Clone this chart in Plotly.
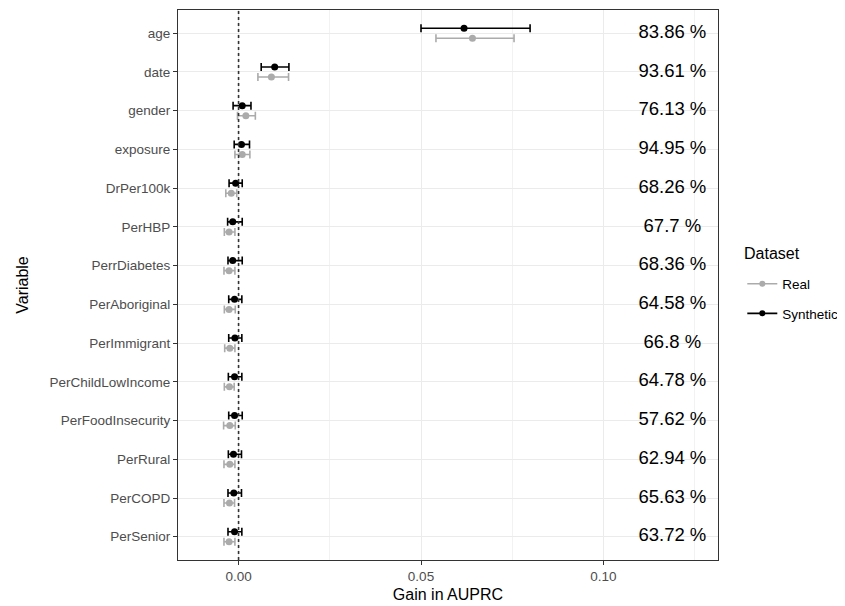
import plotly.graph_objects as go

variables = ["age", "date", "gender", "exposure", "DrPer100k", "PerHBP", "PerrDiabetes",
             "PerAboriginal", "PerImmigrant", "PerChildLowIncome", "PerFoodInsecurity",
             "PerRural", "PerCOPD", "PerSenior"]
pct_labels = ["83.86 %", "93.61 %", "76.13 %", "94.95 %", "68.26 %", "67.7 %", "68.36 %",
              "64.58 %", "66.8 %", "64.78 %", "57.62 %", "62.94 %", "65.63 %", "63.72 %"]

syn_mean = [0.0618, 0.0099, 0.0010, 0.0008, -0.0008, -0.0016, -0.0016, -0.0011, -0.0010,
            -0.0011, -0.0011, -0.0014, -0.0013, -0.0011]
syn_low = [0.0500, 0.0062, -0.0015, -0.0012, -0.0026, -0.0030, -0.0029, -0.0027, -0.0027,
           -0.0028, -0.0027, -0.0028, -0.0029, -0.0029]
syn_high = [0.0799, 0.0138, 0.0034, 0.0030, 0.0010, 0.0010, 0.0010, 0.0009, 0.0009,
            0.0009, 0.0010, 0.0008, 0.0008, 0.0009]

real_mean = [0.0641, 0.0090, 0.0020, 0.0010, -0.0020, -0.0026, -0.0026, -0.0026, -0.0024,
             -0.0025, -0.0024, -0.0024, -0.0025, -0.0026]
real_low = [0.0541, 0.0053, -0.0003, -0.0010, -0.0035, -0.0039, -0.0040, -0.0039, -0.0038,
            -0.0039, -0.0041, -0.0040, -0.0040, -0.0040]
real_high = [0.0755, 0.0137, 0.0046, 0.0031, -0.0005, -0.0010, -0.0010, -0.0009, -0.0010,
             -0.0012, -0.0009, -0.0010, -0.0011, -0.0010]

LABEL_X = 0.1189
DODGE = 0.13
FONT = "Liberation Sans, Arial, sans-serif"

idx = list(range(len(variables)))

fig = go.Figure()


def add_series(name, mean, low, high, color, offset):
    fig.add_trace(go.Scatter(
        x=mean,
        y=[i + offset for i in idx],
        mode="markers",
        name=name,
        marker=dict(color=color, size=7),
        error_x=dict(type="data", symmetric=False,
                     array=[h - m for h, m in zip(high, mean)],
                     arrayminus=[m - l for m, l in zip(mean, low)],
                     color=color, thickness=1.6, width=4),
        showlegend=False,
        legendgroup=name,
    ))
    # legend entry
    fig.add_trace(go.Scatter(
        x=[None], y=[None], mode="lines+markers", name=name, legendgroup=name,
        line=dict(color=color, width=1.6), marker=dict(color=color, size=6),
    ))


add_series("Real", real_mean, real_low, real_high, "#ABABAB", DODGE)
add_series("Synthetic", syn_mean, syn_low, syn_high, "#000000", -DODGE)

fig.add_trace(go.Scatter(
    x=[LABEL_X] * len(variables), y=idx, mode="text", text=pct_labels,
    textfont=dict(size=18.5, color="#000000", family=FONT), showlegend=False,
    hoverinfo="skip",
))

fig.add_vline(x=0, line=dict(color="#333333", width=1.6, dash="dot"))

fig.add_annotation(
    text="Dataset", xref="paper", yref="paper", x=1.045, y=0.558,
    xanchor="left", yanchor="middle", showarrow=False,
    font=dict(size=16, color="#000000", family=FONT),
)

fig.update_layout(
    width=837, height=598,
    margin=dict(l=170, r=127, t=2, b=46, autoexpand=False),
    plot_bgcolor="white", paper_bgcolor="white",
    font=dict(family=FONT),
    legend=dict(
        font=dict(size=13.5, color="#000000"),
        x=1.045, xanchor="left", y=0.4745, yanchor="middle",
        tracegroupgap=9,
    ),
    showlegend=True,
)

fig.update_xaxes(
    range=[-0.0166, 0.1314],
    tickvals=[0, 0.05, 0.10], ticktext=["0.00", "0.05", "0.10"],
    showgrid=True, gridcolor="#EBEBEB", gridwidth=1.2,
    minor=dict(tickvals=[0.025, 0.075, 0.125], showgrid=True, gridcolor="#F2F2F2", gridwidth=0.6),
    ticks="outside", ticklen=4, tickcolor="#333333",
    tickfont=dict(size=13.5, color="#4D4D4D"),
    title=dict(text="Gain in AUPRC", font=dict(size=16, color="#000000"), standoff=5),
    showline=True, linecolor="#333333", linewidth=1.2, mirror=True,
    zeroline=False, automargin=False,
)

fig.update_yaxes(
    range=[13.6, -0.6],
    tickvals=idx, ticktext=variables,
    showgrid=True, gridcolor="#EBEBEB", gridwidth=1.2,
    ticks="outside", ticklen=4, tickcolor="#333333",
    tickfont=dict(size=13.5, color="#4D4D4D"),
    title=dict(text="Variable", font=dict(size=16, color="#000000"), standoff=16),
    showline=True, linecolor="#333333", linewidth=1.2, mirror=True,
    zeroline=False, automargin=False,
)

fig.write_html("out.html")
